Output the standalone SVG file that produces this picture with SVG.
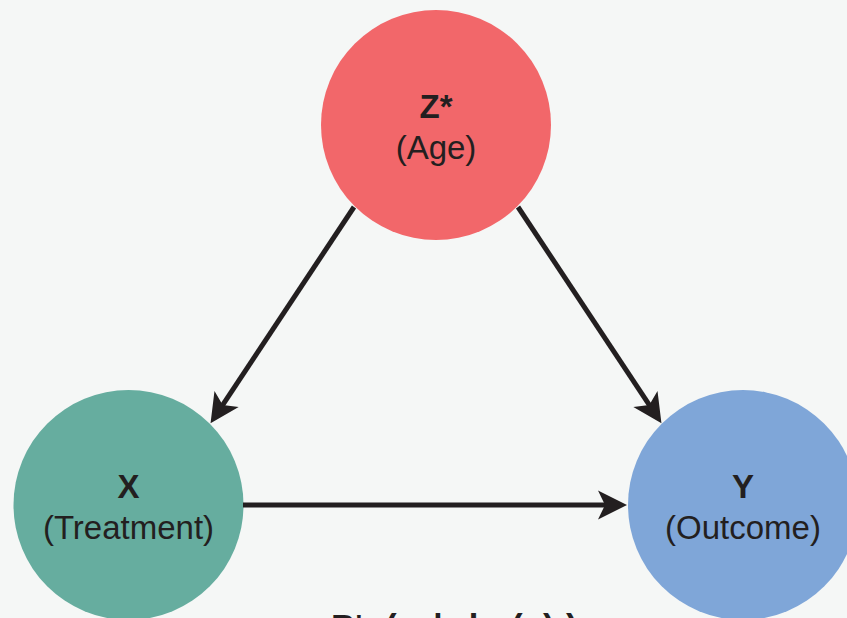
<svg xmlns="http://www.w3.org/2000/svg" width="847" height="618" viewBox="0 0 847 618">
  <style>
    .lbl { font-family: "Liberation Sans", Arial, Helvetica, sans-serif; font-size: 33px; fill: #231F20; text-anchor: middle; }
    .b { font-weight: bold; }
    .edge { stroke: #231F20; stroke-width: 5; fill: none; }
  </style>
  <defs>
    <marker id="arr" markerUnits="userSpaceOnUse" orient="auto" overflow="visible" markerWidth="40" markerHeight="40" refX="0" refY="0">
      <path d="M20,0 L-9,-14.5 L-2,0 L-9,14.5 Z" fill="#231F20"/>
    </marker>
  </defs>
  <rect x="0" y="0" width="847" height="618" fill="#F5F7F6"/>

  <g id="node-Z">
    <circle cx="436" cy="125" r="115" fill="#F2676A"/>
    <text class="lbl b" x="436" y="118">Z*</text>
    <text class="lbl" x="436" y="159">(Age)</text>
  </g>
  <g id="node-X">
    <circle cx="128.5" cy="505" r="115" fill="#66AD9F"/>
    <text class="lbl b" x="128.5" y="498">X</text>
    <text class="lbl" x="128.5" y="539">(Treatment)</text>
  </g>
  <g id="node-Y">
    <circle cx="743" cy="505" r="115" fill="#7FA6D8"/>
    <text class="lbl b" x="743" y="498">Y</text>
    <text class="lbl" x="743" y="539">(Outcome)</text>
  </g>

  <g id="connectors">
    <line class="edge" x1="354" y1="207" x2="221.6" y2="406.6" marker-end="url(#arr)"/>
    <line class="edge" x1="518" y1="207" x2="650.4" y2="406.6" marker-end="url(#arr)"/>
    <line class="edge" x1="243" y1="505" x2="607" y2="505" marker-end="url(#arr)"/>
  </g>

  <text class="lbl b" style="text-anchor:start;font-size:35px" x="331 352 385 397 433 457 482 511 522 543 566" y="639">P*(y|do(x))</text>
</svg>
